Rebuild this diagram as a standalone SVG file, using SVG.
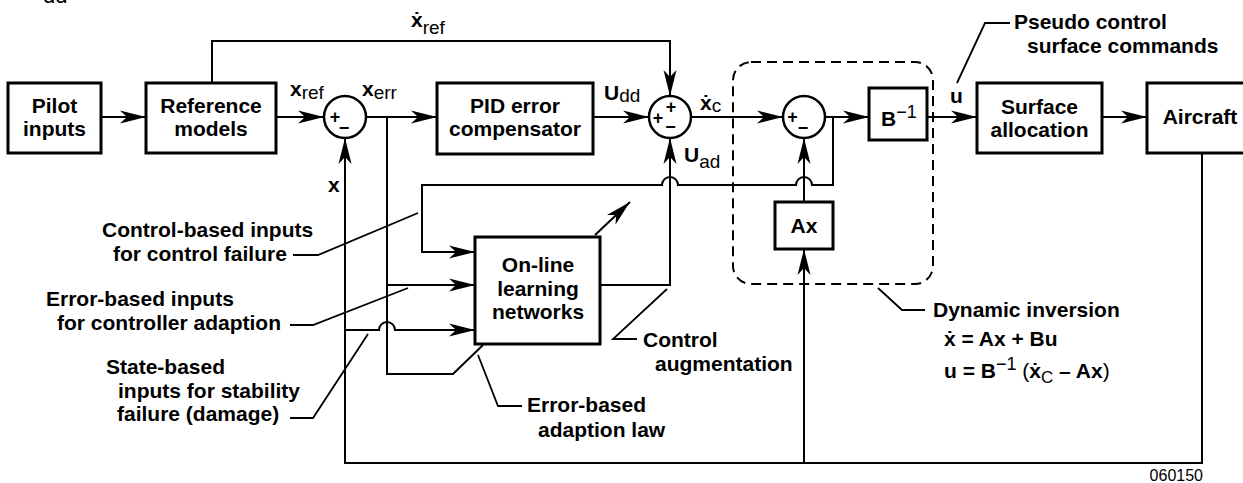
<svg xmlns="http://www.w3.org/2000/svg" width="1243" height="483" viewBox="0 0 1243 483">
  <style>
    .box { fill: #fff; stroke: #000; stroke-width: 3; }
    .sum { fill: #fff; stroke: #000; stroke-width: 2.5; }
    .wire { fill: none; stroke: #000; stroke-width: 2; }
    .lead { fill: none; stroke: #000; stroke-width: 1.8; }
    .dash { fill: none; stroke: #000; stroke-width: 2; stroke-dasharray: 10 6; }
    text { font-family: "Liberation Sans", Arial, "DejaVu Sans", sans-serif; fill: #000; }
    .b { font-weight: bold; font-size: 21px; }
    .c { text-anchor: middle; }
    .sub { font-weight: normal; font-size: 19px; }
    .sign { font-weight: bold; font-size: 18px; text-anchor: middle; }
    .tag { font-size: 16px; font-weight: normal; }
  </style>
  <defs>
    <marker id="arrow" viewBox="0 0 26 14" refX="26" refY="7" markerWidth="26" markerHeight="14" markerUnits="userSpaceOnUse" orient="auto">
      <path d="M0,0.5 L26,7 L0,13.5 L7,7 Z" fill="#000"/>
    </marker>
  </defs>
  <rect width="1243" height="483" fill="#fff"/>

  <!-- clipped subscript at top edge -->
  <text x="43" y="3" style="font-size:22px">dd</text>

  <!-- dynamic inversion boundary -->
  <rect class="dash" x="733" y="62" width="200" height="222" rx="18"/>

  <!-- connectors -->
  <g id="connectors">
    <path class="wire" d="M101,117 H146" marker-end="url(#arrow)"/>
    <path class="wire" d="M276,117 H324" marker-end="url(#arrow)"/>
    <path class="wire" d="M212,83 V41 H670 V96" marker-end="url(#arrow)"/>
    <path class="wire" d="M366,117 H437" marker-end="url(#arrow)"/>
    <path class="wire" d="M593,117 H649" marker-end="url(#arrow)"/>
    <path class="wire" d="M691,117 H783" marker-end="url(#arrow)"/>
    <path class="wire" d="M825,117 H869" marker-end="url(#arrow)"/>
    <path class="wire" d="M927,117 H977" marker-end="url(#arrow)"/>
    <path class="wire" d="M1102,117 H1147" marker-end="url(#arrow)"/>
    <!-- state feedback from aircraft -->
    <path class="wire" d="M1202,153 V463 H345 V138" marker-end="url(#arrow)"/>
    <path class="wire" d="M804,463 V249" marker-end="url(#arrow)"/>
    <path class="wire" d="M804,202 V138" marker-end="url(#arrow)"/>
    <!-- control signal tapped after inversion summer -->
    <path class="wire" d="M833,117 V185 H812 A8,8 0 0 0 796,185 H678 A8,8 0 0 0 662,185 H422 V252 H475" marker-end="url(#arrow)"/>
    <!-- tracking error branches -->
    <path class="wire" d="M387,117 V374 H453 L483,345"/>
    <path class="wire" d="M387,285 H475" marker-end="url(#arrow)"/>
    <path class="wire" d="M345,330 H379 A8,8 0 0 1 395,330 H475" marker-end="url(#arrow)"/>
    <!-- adaptive output -->
    <path class="wire" d="M600,285 H670 V138" marker-end="url(#arrow)"/>
    <path class="wire" d="M595,235 L630,202" marker-end="url(#arrow)"/>
  </g>

  <!-- blocks -->
  <g id="pilot">
    <rect class="box" x="8" y="83" width="93" height="70"/>
    <text class="b c" x="54.5" y="113">Pilot</text>
    <text class="b c" x="54.5" y="136">inputs</text>
  </g>
  <g id="reference">
    <rect class="box" x="146" y="83" width="130" height="70"/>
    <text class="b c" x="211" y="113">Reference</text>
    <text class="b c" x="211" y="136">models</text>
  </g>
  <g id="sum1">
    <circle class="sum" cx="345" cy="117" r="21"/>
    <text class="sign" x="335" y="123">+</text>
    <text class="sign" x="344" y="134">−</text>
  </g>
  <g id="pid">
    <rect class="box" x="437" y="83" width="156" height="71"/>
    <text class="b c" x="515" y="113">PID error</text>
    <text class="b c" x="515" y="136">compensator</text>
  </g>
  <g id="sum2">
    <circle class="sum" cx="670" cy="117" r="21"/>
    <text class="sign" x="658" y="124">+</text>
    <text class="sign" x="671" y="113">+</text>
    <text class="sign" x="670.5" y="133">−</text>
  </g>
  <g id="sum3">
    <circle class="sum" cx="804" cy="117" r="21"/>
    <text class="sign" x="792.5" y="123">+</text>
    <text class="sign" x="803" y="134">−</text>
  </g>
  <g id="binv">
    <rect class="box" x="869" y="88" width="58" height="52"/>
    <text class="b" x="881" y="126">B<tspan class="sub" style="font-size:18px" dy="-8">−1</tspan></text>
  </g>
  <g id="ax">
    <rect class="box" x="775" y="202" width="58" height="47"/>
    <text class="b c" x="804" y="233">Ax</text>
  </g>
  <g id="surface">
    <rect class="box" x="977" y="83" width="125" height="70"/>
    <text class="b c" x="1039.5" y="114">Surface</text>
    <text class="b c" x="1039.5" y="137">allocation</text>
  </g>
  <g id="aircraft">
    <rect class="box" x="1147" y="83" width="120" height="70"/>
    <text class="b c" x="1200" y="124">Aircraft</text>
  </g>
  <g id="learning">
    <rect class="box" x="475" y="237" width="125" height="107"/>
    <text class="b c" x="538" y="272">On-line</text>
    <text class="b c" x="538" y="296">learning</text>
    <text class="b c" x="538" y="319">networks</text>
  </g>

  <!-- signal names -->
  <g id="signals">
    <text class="b" x="411" y="27">ẋ<tspan class="sub" dy="7">ref</tspan></text>
    <text class="b" x="290" y="96">x<tspan class="sub" dy="2.5">ref</tspan></text>
    <text class="b" x="362" y="96">x<tspan class="sub" dy="2.5">err</tspan></text>
    <text class="b" x="604" y="100">U<tspan class="sub" dy="2">dd</tspan></text>
    <text class="b" x="684" y="162">U<tspan class="sub" dy="6">ad</tspan></text>
    <text class="b" x="700" y="110">ẋ<tspan class="sub" dy="2">c</tspan></text>
    <text class="b" x="328" y="192">x</text>
    <text class="b" x="950" y="103">u</text>
  </g>

  <!-- annotations -->
  <g id="annotations">
    <path class="lead" d="M957,83 L985,23 H1010"/>
    <text class="b" x="1014" y="29">Pseudo control</text>
    <text class="b" x="1027" y="53">surface commands</text>

    <path class="lead" d="M293,255 H318 L418,213"/>
    <text class="b" x="102" y="237">Control-based inputs</text>
    <text class="b" x="113" y="261">for control failure</text>

    <path class="lead" d="M290,325 H313 L408,288"/>
    <text class="b" x="46" y="306">Error-based inputs</text>
    <text class="b" x="57" y="330">for controller adaption</text>

    <path class="lead" d="M290,418 H313 L368,334"/>
    <text class="b" x="106" y="374">State-based</text>
    <text class="b" x="118" y="398">inputs for stability</text>
    <text class="b" x="117" y="421">failure (damage)</text>

    <path class="lead" d="M667,289 L613,339 H637"/>
    <text class="b" x="643" y="347">Control</text>
    <text class="b" x="655" y="371">augmentation</text>

    <path class="lead" d="M478,355 L498,406 H522"/>
    <text class="b" x="527" y="412">Error-based</text>
    <text class="b" x="538" y="437">adaption law</text>

    <path class="lead" d="M878,288 L902,310 H925"/>
    <text class="b" x="933" y="317">Dynamic inversion</text>
    <text class="b" x="944" y="346">ẋ = Ax + Bu</text>
    <text class="b" x="944" y="378">u = B<tspan class="sub" style="font-size:18px" dy="-8">−1</tspan><tspan dy="8" class="sub" style="font-size:21px"> (</tspan>ẋ<tspan class="sub" style="font-size:17px" dy="5">C</tspan><tspan dy="-5"> – Ax</tspan><tspan class="sub" style="font-size:21px">)</tspan></text>

    <text class="tag" x="1203" y="481" text-anchor="end">060150</text>
  </g>
</svg>
